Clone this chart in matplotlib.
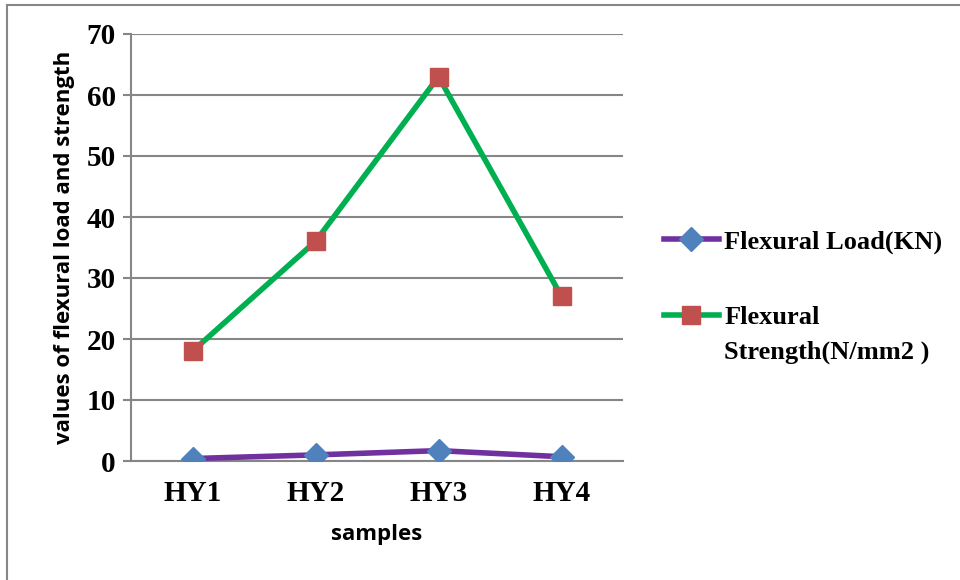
import matplotlib
matplotlib.use("Agg")
import matplotlib.pyplot as plt
from matplotlib.lines import Line2D
from matplotlib.text import Annotation

samples = ["HY1", "HY2", "HY3", "HY4"]
flexural_load = [0.4, 1.0, 1.7, 0.7]
flexural_strength = [18, 36, 63, 27]
y_ticks = [0, 10, 20, 30, 40, 50, 60, 70]

serif = "Liberation Serif"
sans = "Open Sans"
grid_col = "#868686"

fig = plt.figure(figsize=(9.6, 5.8), dpi=100)
ax = fig.add_axes([131 / 960, 1 - 461 / 580, (623 - 131) / 960, (461 - 34) / 580])

x = range(len(samples))
ax.plot(x, flexural_load, color="#7030A0", lw=4, marker="D", ms=12,
        mfc="#4F81BD", mec="#4F81BD", label="Flexural Load(KN)", zorder=3)
ax.plot(x, flexural_strength, color="#00B050", lw=4, marker="s", ms=13,
        mfc="#C0504D", mec="#C0504D", label="Flexural", zorder=3)

ax.set_xlim(-0.5, 3.5)
ax.set_ylim(0, 70)
ax.set_yticks(y_ticks)
ax.set_xticks(list(x))
ax.set_xticklabels(samples)
ax.yaxis.grid(True, color=grid_col, lw=1.5)
ax.set_axisbelow(True)

for s in ["top", "right"]:
    ax.spines[s].set_visible(False)
for s in ["left", "bottom"]:
    ax.spines[s].set_color(grid_col)
    ax.spines[s].set_linewidth(1.5)

ax.tick_params(axis="y", length=6, width=1.5, color=grid_col, pad=5)
ax.tick_params(axis="x", length=0, pad=14)
for lab in ax.get_xticklabels() + ax.get_yticklabels():
    lab.set_fontfamily(serif)
    lab.set_fontweight("bold")
    lab.set_fontsize(21)

ax.set_xlabel("samples", fontfamily=sans, fontweight="bold", fontsize=16, labelpad=12)
ax.set_ylabel("values of flexural load and strength", fontfamily=sans,
              fontweight="bold", fontsize=16, labelpad=8)

leg = fig.legend(loc="upper left", bbox_to_anchor=(640 / 960, 1 - 206 / 580),
                 frameon=False, handlelength=2.1, handletextpad=0.2,
                 labelspacing=1.98, prop={"family": serif, "weight": "bold", "size": 19})

# second line of the strength label, hung under "Flexural"
second_line = Annotation("Strength(N/mm2 )", xy=(0, 0), xycoords=leg.get_texts()[1],
                         xytext=(0, -29), textcoords="offset pixels", va="baseline",
                         fontfamily=serif, fontweight="bold", fontsize=19)
second_line.set_zorder(10)
fig.add_artist(second_line)

# outer chart border (top and left visible)
fig.add_artist(Line2D([7 / 960, 7 / 960], [0, 1 - 5 / 580], color=grid_col, lw=1.5))
fig.add_artist(Line2D([7 / 960, 1], [1 - 5 / 580, 1 - 5 / 580], color=grid_col, lw=1.5))

fig.savefig("out.png", dpi=100)
